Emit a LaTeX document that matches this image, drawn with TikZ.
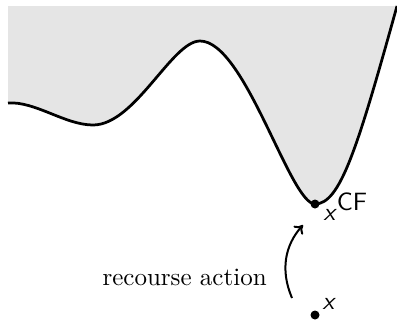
\documentclass[tikz,border=0pt]{standalone}
\usetikzlibrary{arrows.meta}
\begin{document}
\begin{tikzpicture}[x=0.4pt,y=-0.4pt,
  landscape/.style={line width=1.1pt},
  pt/.style={circle,fill=black,inner sep=0pt,minimum size=3.6pt},
  lbl/.style={inner sep=0pt,font=\sffamily},
  move/.style={line width=0.8pt,-{To[length=3.2pt,width=5pt]}}]
\useasboundingbox (0,0) rectangle (397,320);
% shaded region above the curve
\fill[black!10] (8,6) -- (8,103)
  .. controls (35,101) and (65,125) .. (93,125)
  .. controls (135,125) and (172,41) .. (200,41)
  .. controls (245,41) and (290,204) .. (315,204)
  .. controls (340,204) and (357,150) .. (397,6) -- cycle;
\draw[landscape] (8,103)
  .. controls (35,101) and (65,125) .. (93,125)
  .. controls (135,125) and (172,41) .. (200,41)
  .. controls (245,41) and (290,204) .. (315,204)
  .. controls (340,204) and (357,150) .. (397,6);
% points
\node[pt] (xcf) at (315,204) {};
\node[pt] (x) at (315,315) {};
\node[lbl,anchor=base west] (lcf) at (323,220) {$\textsf{\textit{x}}^{\textsf{CF}}$};
\node[lbl,anchor=base west] (lx) at (322,309) {\textit{x}};
% recourse arrow
\coordinate (aS) at (292,298);
\coordinate (aE) at (303,225);
\draw[move] (aS) .. controls (280,270) and (285,245) .. (aE);
\node[inner sep=0pt,anchor=base west] (ra) at (102,285) {recourse action};
\end{tikzpicture}
\end{document}
